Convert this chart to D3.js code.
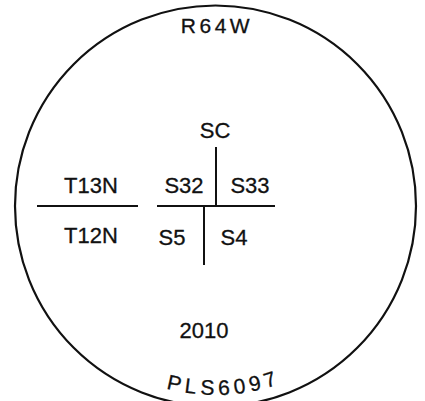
<!DOCTYPE html>
<html>
<head>
<meta charset="utf-8">
<script src="https://cdn.jsdelivr.net/npm/d3@7"></script>
<style>
  body { margin: 0; background: #fff; }
  text { font-family: "Liberation Sans", Arial, sans-serif; fill: #111; stroke: #111; stroke-width: 0.3px; }
</style>
</head>
<body>
<div id="chart"></div>
<script>
// Cap stamping text
var range = "R64W";
var townships = ["T13N", "T12N"];
var sectionsNorth = ["S32", "S33"];
var sectionsSouth = ["S5", "S4"];
var corner = "SC";
var year = "2010";
var license = "PLS6097";

var W = 425, H = 401;
var svg = d3.select("#chart").append("svg").attr("width", W).attr("height", H);

// cap coordinate system: -1..1 across the disk
var cx = 215.5, cy = 206, r = 200.5;
var x = d3.scaleLinear().domain([-1, 1]).range([cx - r, cx + r]);
var y = d3.scaleLinear().domain([-1, 1]).range([cy - r, cy + r]);

var ink = "#111";

// outer rim
svg.append("circle")
    .attr("cx", x(0)).attr("cy", y(0)).attr("r", x(1) - x(0))
    .attr("fill", "none").attr("stroke", ink).attr("stroke-width", 2.2);

// range along the top
svg.append("text")
    .attr("x", 217).attr("y", 33)
    .attr("text-anchor", "middle")
    .style("font-size", "21px")
    .style("letter-spacing", "3.5px")
    .text(range);

// township line (left)
svg.append("line")
    .attr("x1", 37).attr("x2", 138).attr("y1", y(0)).attr("y2", y(0))
    .attr("stroke", ink).attr("stroke-width", 2);

// section lines
svg.append("line")
    .attr("x1", 157).attr("x2", 275).attr("y1", y(0)).attr("y2", y(0))
    .attr("stroke", ink).attr("stroke-width", 2);
svg.append("line")
    .attr("x1", 216).attr("x2", 216).attr("y1", 147).attr("y2", y(0))
    .attr("stroke", ink).attr("stroke-width", 2);
svg.append("line")
    .attr("x1", 204).attr("x2", 204).attr("y1", y(0)).attr("y2", 265)
    .attr("stroke", ink).attr("stroke-width", 2);

function label(t, px, py) {
    svg.append("text")
        .attr("x", px).attr("y", py)
        .attr("text-anchor", "middle")
        .style("font-size", "22px")
        .text(t);
}

label(corner, 215, 138);
label(townships[0], 91, 193);
label(townships[1], 91, 243);
label(sectionsNorth[0], 184, 193);
label(sectionsNorth[1], 250, 193);
label(sectionsSouth[0], 172, 245);
label(sectionsSouth[1], 234, 245);
label(year, 204, 338);

// license number curved along the bottom
var rr = 189;
svg.append("path")
    .attr("id", "bottomArc")
    .attr("fill", "none")
    .attr("d", "M" + (cx - rr) + "," + cy + " A" + rr + "," + rr + " 0 0 0 " + (cx + rr) + "," + cy);

svg.append("text")
    .style("font-size", "21px")
    .style("letter-spacing", "4.5px")
    .append("textPath")
    .attr("href", "#bottomArc")
    .attr("startOffset", "51.5%")
    .attr("text-anchor", "middle")
    .text(license);
</script>
</body>
</html>
